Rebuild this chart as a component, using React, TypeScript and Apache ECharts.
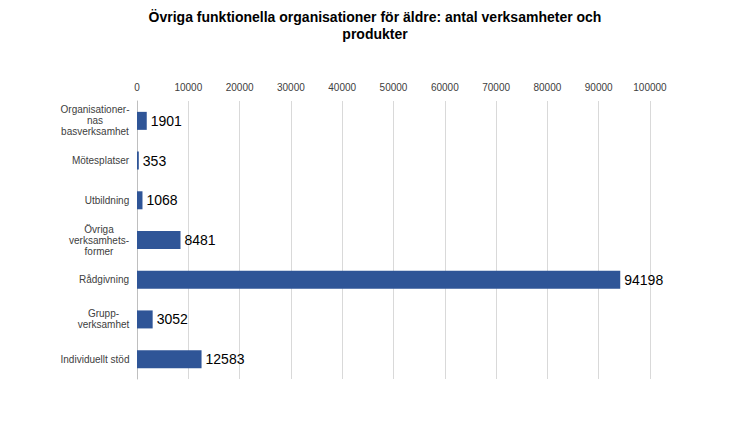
import React, { useEffect, useRef } from "react";
import * as echarts from "echarts";

const categories = [
  "Organisationer-\nnas\nbasverksamhet",
  "Mötesplatser",
  "Utbildning",
  "Övriga\nverksamhets-\nformer",
  "Rådgivning",
  "Grupp-\nverksamhet",
  "Individuellt stöd",
];
const values = [1901, 353, 1068, 8481, 94198, 3052, 12583];
const title = "Övriga funktionella organisationer för äldre: antal verksamheter och\nprodukter";

const FONT = "Liberation Sans, Arial, sans-serif";

export default function App() {
  const ref = useRef<HTMLDivElement>(null);
  useEffect(() => {
    const chart = echarts.init(ref.current!, undefined, { renderer: "svg" });
    const canvas = document.createElement("canvas");
    const ctx = canvas.getContext("2d")!;
    ctx.font = "10px 'Liberation Sans'";
    const rich: Record<string, any> = {};
    categories.forEach((c, i) => {
      const w = Math.max(...c.split("\n").map((l) => ctx.measureText(l).width));
      rich["r" + i] = { width: Math.ceil(w) + 1, align: "center", fontSize: 10, lineHeight: 11, color: "#404040", fontFamily: FONT };
    });
    chart.setOption({
      animation: false,
      backgroundColor: "#ffffff",
      textStyle: { fontFamily: FONT },
      title: {
        text: title,
        left: "center",
        top: 3,
        textStyle: { fontSize: 14, fontWeight: "bold", color: "#000", lineHeight: 17, fontFamily: FONT },
      },
      grid: { left: 137, right: 100, top: 101, height: 278, containLabel: false },
      xAxis: {
        type: "value",
        position: "top",
        min: 0,
        max: 100000,
        interval: 10000,
        axisLine: { show: false },
        axisTick: { show: false },
        axisLabel: { color: "#404040", fontSize: 10, margin: 9, formatter: (v: number) => String(v) },
        splitLine: { lineStyle: { color: "#d9d9d9", width: 1 } },
      },
      yAxis: {
        type: "category",
        inverse: true,
        data: categories,
        axisLine: { show: true, lineStyle: { color: "#bfbfbf" } },
        axisTick: { show: false },
        axisLabel: {
          margin: 7,
          align: "right",
          formatter: (v: string) => {
            const i = categories.indexOf(v);
            return v.split("\n").map((l) => `{r${i}|${l}}`).join("\n");
          },
          rich,
        },
      },
      series: [
        {
          type: "bar",
          data: values,
          barWidth: 18,
          itemStyle: { color: "#2f5597" },
          label: { show: true, position: "right", color: "#000", fontSize: 14, distance: 4, fontFamily: FONT },
        },
      ],
    });
    return () => chart.dispose();
  }, []);
  return <div ref={ref} style={{ position: "absolute", left: 0, top: 0, width: 750, height: 436 }} />;
}
